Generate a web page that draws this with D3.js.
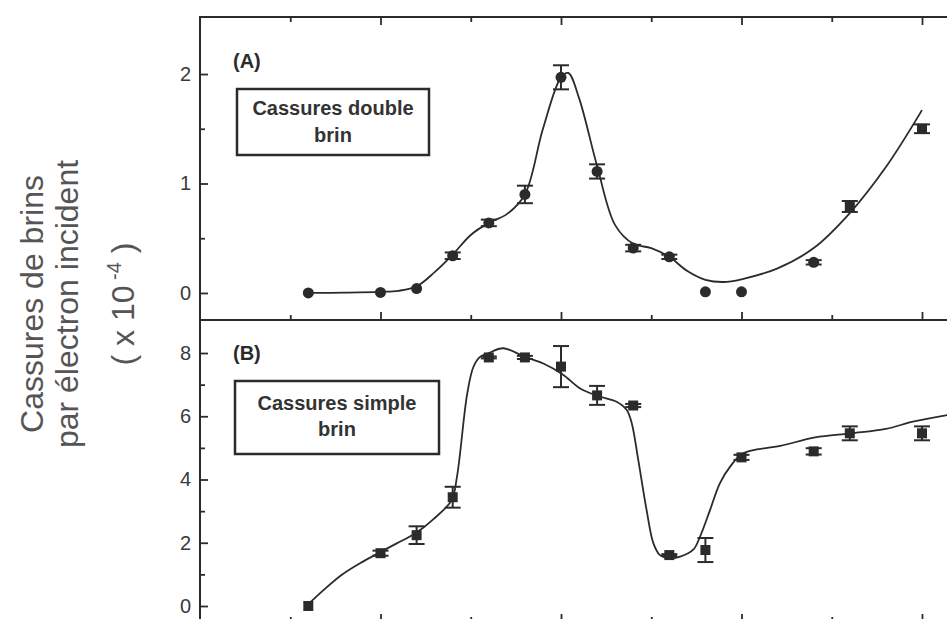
<!DOCTYPE html>
<html>
<head>
<meta charset="utf-8">
<script src="https://cdn.jsdelivr.net/npm/d3@7"></script>
<style>
	body { margin: 0; background: #fff; }
	svg { display: block; font-family: "Liberation Sans", Arial, sans-serif; }
</style>
</head>
<body>
<div id="chart"></div>
<script>
// Data

// incident electron energy of each measured point (eV)
const energies = [3, 5, 6, 7, 8, 9, 10, 11, 12, 13, 14, 15, 17, 18, 20]

// (A) double strand breaks, x 10^-4
const dsbValues = [0.0, 0.005, 0.04, 0.34, 0.64, 0.90, 1.97, 1.11, 0.41, 0.33, 0.01, 0.01, 0.28, 0.79, 1.50]
const dsbErrors = [0, 0, 0, 0.03, 0.03, 0.08, 0.11, 0.065, 0.03, 0.02, 0, 0, 0.02, 0.05, 0.04]
const dsbSymbols = ["circle", "circle", "circle", "circle", "circle", "circle", "circle", "circle", "circle", "circle", "circle", "circle", "circle", "square", "square"]

// (B) single strand breaks, x 10^-4
const ssbValues = [0.0, 1.67, 2.24, 3.44, 7.86, 7.86, 7.57, 6.66, 6.34, 1.61, 1.77, 4.70, 4.89, 5.46, 5.46]
const ssbErrors = [0, 0.08, 0.28, 0.33, 0.03, 0.05, 0.65, 0.3, 0.05, 0.03, 0.38, 0.08, 0.1, 0.22, 0.22]

// hand drawn guide curves [energy, value]
const dsbCurve = [[3, 0.0], [4, 0.003], [5, 0.01], [5.5, 0.02], [6, 0.06], [6.5, 0.19], [7, 0.35], [7.5, 0.53],
	[8, 0.64], [8.5, 0.72], [9, 0.9], [9.5, 1.5], [10, 1.97], [10.2, 2.01], [10.5, 1.78], [11, 1.16],
	[11.5, 0.62], [12, 0.45], [12.5, 0.41], [13, 0.33], [13.5, 0.2], [14, 0.12], [14.5, 0.1], [15, 0.125],
	[16, 0.225], [17, 0.41], [18, 0.73], [19, 1.15], [20, 1.67]]

const ssbCurve = [[2.95, 0.0], [3.42, 0.5], [3.92, 0.98], [4.43, 1.35], [4.94, 1.67], [5.45, 1.98], [5.97, 2.3],
	[6.46, 2.74], [6.97, 3.35], [7.12, 4.1], [7.4, 6.7], [7.57, 7.55], [7.75, 7.87], [8, 8.0], [8.4, 8.15],
	[9, 7.88], [9.51, 7.67], [10.04, 7.33], [10.53, 6.88], [11.03, 6.64], [11.54, 6.46], [11.82, 6.2],
	[11.96, 5.78], [12.14, 4.62], [12.37, 3.04], [12.56, 1.98], [12.74, 1.61], [13.02, 1.51], [13.3, 1.56],
	[13.67, 1.79], [13.85, 2.19], [14.13, 3.04], [14.4, 3.88], [14.68, 4.4], [15.05, 4.83], [16.07, 5.06],
	[17.04, 5.33], [18.03, 5.46], [19, 5.6], [19.75, 5.83], [20.7, 6.04]]

const xMajor = [5, 10, 15, 20]
const xMinor = [2.5, 7.5, 12.5, 17.5]
const dsbMajor = [0, 1, 2]
const dsbMinor = [0.5, 1.5]
const ssbMajor = [0, 2, 4, 6, 8]
const ssbMinor = [1, 3, 5, 7]

const ink = "#2b2b2b"

const svg = d3.select("#chart")
	.append("svg")
	.attr("width", 947)
	.attr("height", 619)

const xScale = d3.scaleLinear()
	.domain([0, 22])
	.range([200, 200 + 22 * 36.1])

const yA = d3.scaleLinear()
	.domain([-0.247, 2.521])
	.range([320, 17])

const yB = d3.scaleLinear()
	.domain([-0.506, 9.044])
	.range([622, 320])

/**
 * draws ticks (no domain) of an axis, major and minor
 */
function ticks(axisFn, scale, major, minor, transform, withLabels) {
	const g = svg.append("g").attr("transform", transform)
	g.append("g")
		.call(axisFn(scale).tickValues(major).tickSize(-8).tickPadding(9)
			.tickFormat(withLabels ? d3.format("d") : ""))
	g.append("g")
		.call(axisFn(scale).tickValues(minor).tickSize(-5).tickFormat(""))
	g.selectAll(".domain").remove()
	g.selectAll("line").attr("stroke", ink).attr("stroke-width", 1.8)
	g.selectAll("text")
		.attr("font-size", "20px")
		.attr("fill", "#3a3a3a")
		.attr("font-family", "'Liberation Sans', Arial, sans-serif")
	return g
}

// frame (right side runs past the picture)
const frameRight = xScale.range()[1]
svg.append("path")
	.attr("d", `M${frameRight},17 H200 V622 H${frameRight} M200,320 H${frameRight}`)
	.attr("fill", "none").attr("stroke", ink).attr("stroke-width", 2)

// axes ticks
ticks(d3.axisTop, xScale, xMajor, xMinor, "translate(0,17)", false)
ticks(d3.axisBottom, xScale, xMajor, xMinor, "translate(0,320)", false)
ticks(d3.axisBottom, xScale, xMajor, xMinor, "translate(0,622)", false)
ticks(d3.axisLeft, yA, dsbMajor, dsbMinor, "translate(200,0)", true)
ticks(d3.axisLeft, yB, ssbMajor, ssbMinor, "translate(200,0)", true)

/**
 * draws a panel: curve, error bars and markers
 */
function drawPanel(yScale, curve, values, errors, symbols) {
	const g = svg.append("g")

	const line = d3.line()
		.x((d) => xScale(d[0]))
		.y((d) => yScale(d[1]))
		.curve(d3.curveCatmullRom.alpha(0.5))

	g.append("path")
		.datum(curve)
		.attr("d", line)
		.attr("fill", "none")
		.attr("stroke", ink)
		.attr("stroke-width", 1.8)

	const pts = energies.map((e, i) => ({ x: e, v: values[i], err: errors[i], sym: symbols[i] }))

	const bars = g.append("g").selectAll("g")
		.data(pts.filter((d) => d.err > 0))
		.join("g")
		.attr("stroke", ink)
		.attr("stroke-width", 2)
	bars.append("line")
		.attr("x1", (d) => xScale(d.x)).attr("x2", (d) => xScale(d.x))
		.attr("y1", (d) => yScale(d.v - d.err)).attr("y2", (d) => yScale(d.v + d.err))
	bars.append("line")
		.attr("x1", (d) => xScale(d.x) - 8).attr("x2", (d) => xScale(d.x) + 8)
		.attr("y1", (d) => yScale(d.v - d.err)).attr("y2", (d) => yScale(d.v - d.err))
	bars.append("line")
		.attr("x1", (d) => xScale(d.x) - 8).attr("x2", (d) => xScale(d.x) + 8)
		.attr("y1", (d) => yScale(d.v + d.err)).attr("y2", (d) => yScale(d.v + d.err))

	g.append("g").selectAll("path")
		.data(pts)
		.join("path")
		.attr("transform", (d) => `translate(${xScale(d.x)},${yScale(d.v)})`)
		.attr("d", (d) => d3.symbol()
			.type(d.sym === "square" ? d3.symbolSquare : d3.symbolCircle)
			.size(d.sym === "square" ? 100 : 95)())
		.attr("fill", ink)
}

drawPanel(yA, dsbCurve, dsbValues, dsbErrors, dsbSymbols)
drawPanel(yB, ssbCurve, ssbValues, ssbErrors, energies.map(() => "square"))

// panel letters and boxed captions
function caption(letter, letterY, box, lines) {
	svg.append("text")
		.attr("x", 233).attr("y", letterY)
		.attr("font-size", "20px").attr("font-weight", "bold")
		.attr("fill", ink)
		.text(letter)
	svg.append("rect")
		.attr("x", box[0]).attr("y", box[1])
		.attr("width", box[2]).attr("height", box[3])
		.attr("fill", "none").attr("stroke", ink).attr("stroke-width", 2.5)
	lines.forEach((l) => {
		svg.append("text")
			.attr("x", box[0] + box[2] / 2).attr("y", l[1])
			.attr("text-anchor", "middle")
			.attr("font-size", "20px").attr("font-weight", "bold")
			.attr("fill", "#333")
			.text(l[0])
	})
}
caption("(A)", 68, [237, 89, 192, 66], [["Cassures double", 115], ["brin", 142]])
caption("(B)", 360, [235, 381, 204, 73], [["Cassures simple", 410], ["brin", 436]])

// y title, three rotated lines
const title = svg.append("g")
	.attr("font-size", "32px")
	.attr("fill", "#555")
	.attr("text-anchor", "middle")
title.append("text")
	.attr("transform", "translate(43,304) rotate(-90)")
	.text("Cassures de brins")
title.append("text")
	.attr("transform", "translate(78,304) rotate(-90)")
	.text("par électron incident")
const t3 = title.append("text")
	.attr("transform", "translate(134,304) rotate(-90)")
t3.append("tspan").text("( x 10")
t3.append("tspan").attr("dy", -13).attr("font-size", "20px").text(" -4")
t3.append("tspan").attr("dy", 13).text(" )")
</script>
</body>
</html>
